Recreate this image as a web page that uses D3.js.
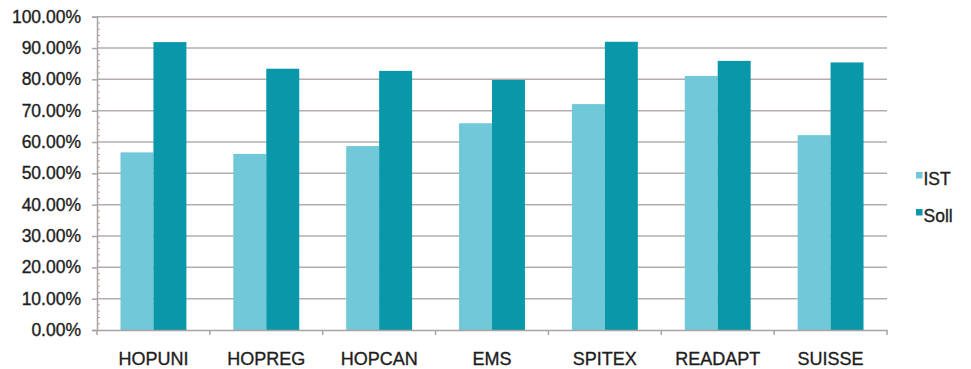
<!DOCTYPE html>
<html>
<head>
<meta charset="utf-8">
<script src="https://cdn.jsdelivr.net/npm/d3@7"></script>
<style>
  html, body { margin: 0; padding: 0; background: #fff; }
  svg { display: block; }
  text { font-family: "Liberation Sans", Arial, sans-serif; fill: #1e1e1e; stroke: #1e1e1e; stroke-width: 0.35px; }
</style>
</head>
<body>
<svg id="chart" width="971" height="369"></svg>
<script>
const categories = ["HOPUNI", "HOPREG", "HOPCAN", "EMS", "SPITEX", "READAPT", "SUISSE"];
const seriesNames = ["IST", "Soll"];
const istValues  = [0.567, 0.562, 0.587, 0.660, 0.721, 0.811, 0.622];
const sollValues = [0.919, 0.834, 0.827, 0.798, 0.920, 0.859, 0.854];
const yTicks = [0, 0.1, 0.2, 0.3, 0.4, 0.5, 0.6, 0.7, 0.8, 0.9, 1.0];
const colors = ["#70c8d8", "#0898aa"];

const svg = d3.select("#chart");
const mLeft = 97, mRight = 887, mTop = 16.7, mBottom = 330;

const x0 = d3.scaleBand().domain(categories).range([mLeft, mRight]).padding(0);
const bw = x0.bandwidth();
const x1 = d3.scaleBand().domain(seriesNames).range([bw * 0.208, bw * 0.792]).padding(0);
const y = d3.scaleLinear().domain([0, 1]).range([mBottom, mTop]);

// gridlines
svg.append("g").selectAll("line").data(yTicks.filter(d => d > 0)).join("line")
  .attr("x1", mLeft).attr("x2", mRight)
  .attr("y1", d => y(d)).attr("y2", d => y(d))
  .attr("stroke", "#b3aeab").attr("stroke-width", 1.5);

// bars
const data = categories.map((c, i) => ({ cat: c, vals: [istValues[i], sollValues[i]] }));
const g = svg.append("g").selectAll("g").data(data).join("g")
  .attr("transform", d => `translate(${x0(d.cat)},0)`);
g.selectAll("rect").data(d => d.vals.map((v, j) => ({ s: seriesNames[j], v, j }))).join("rect")
  .attr("x", d => x1(d.s))
  .attr("width", x1.bandwidth())
  .attr("y", d => y(d.v))
  .attr("height", d => y(0) - y(d.v))
  .attr("fill", d => colors[d.j]);

// y axis
const yAxis = d3.axisLeft(y).tickValues(yTicks).tickFormat(d3.format(".2%")).tickSize(5).tickPadding(11);
const ya = svg.append("g").attr("transform", `translate(${mLeft},0)`).call(yAxis);
ya.select(".domain").attr("stroke", "#a9a4a1").attr("stroke-width", 1.5);
ya.selectAll(".tick line").attr("stroke", "#a9a4a1").attr("stroke-width", 1.5);
ya.selectAll("text").attr("font-size", 17.5).attr("fill", "#1e1e1e").attr("font-family", "Liberation Sans, Arial, sans-serif");

// minor ticks
const minor = d3.range(0, 51).map(i => i / 50).filter(v => Math.round(v * 50) % 5 !== 0);
svg.append("g").selectAll("line").data(minor).join("line")
  .attr("x1", mLeft).attr("x2", mLeft + 3)
  .attr("y1", d => y(d)).attr("y2", d => y(d))
  .attr("stroke", "#a9a4a1").attr("stroke-width", 1);

// x axis
const xa = svg.append("g").attr("transform", `translate(0,${mBottom})`)
  .call(d3.axisBottom(x0).tickSize(0).tickPadding(22));
xa.select(".domain").attr("stroke", "#a9a4a1").attr("stroke-width", 1.5);
xa.selectAll("text").attr("font-size", 18).attr("fill", "#1e1e1e").attr("font-family", "Liberation Sans, Arial, sans-serif");
const bounds = categories.map(c => x0(c)).concat([mRight]);
svg.append("g").selectAll("line").data(bounds).join("line")
  .attr("x1", d => d).attr("x2", d => d)
  .attr("y1", mBottom).attr("y2", mBottom + 5)
  .attr("stroke", "#a9a4a1").attr("stroke-width", 1.5);

// legend
const lg = svg.append("g").selectAll("g").data(seriesNames).join("g")
  .attr("transform", (d, i) => `translate(916,${172 + i * 37})`);
lg.append("rect").attr("width", 6.5).attr("height", 6.5).attr("fill", (d, i) => colors[i]);
lg.append("text").attr("x", 7.5).attr("y", 13).attr("font-size", 17.5).text(d => d);
</script>
</body>
</html>
